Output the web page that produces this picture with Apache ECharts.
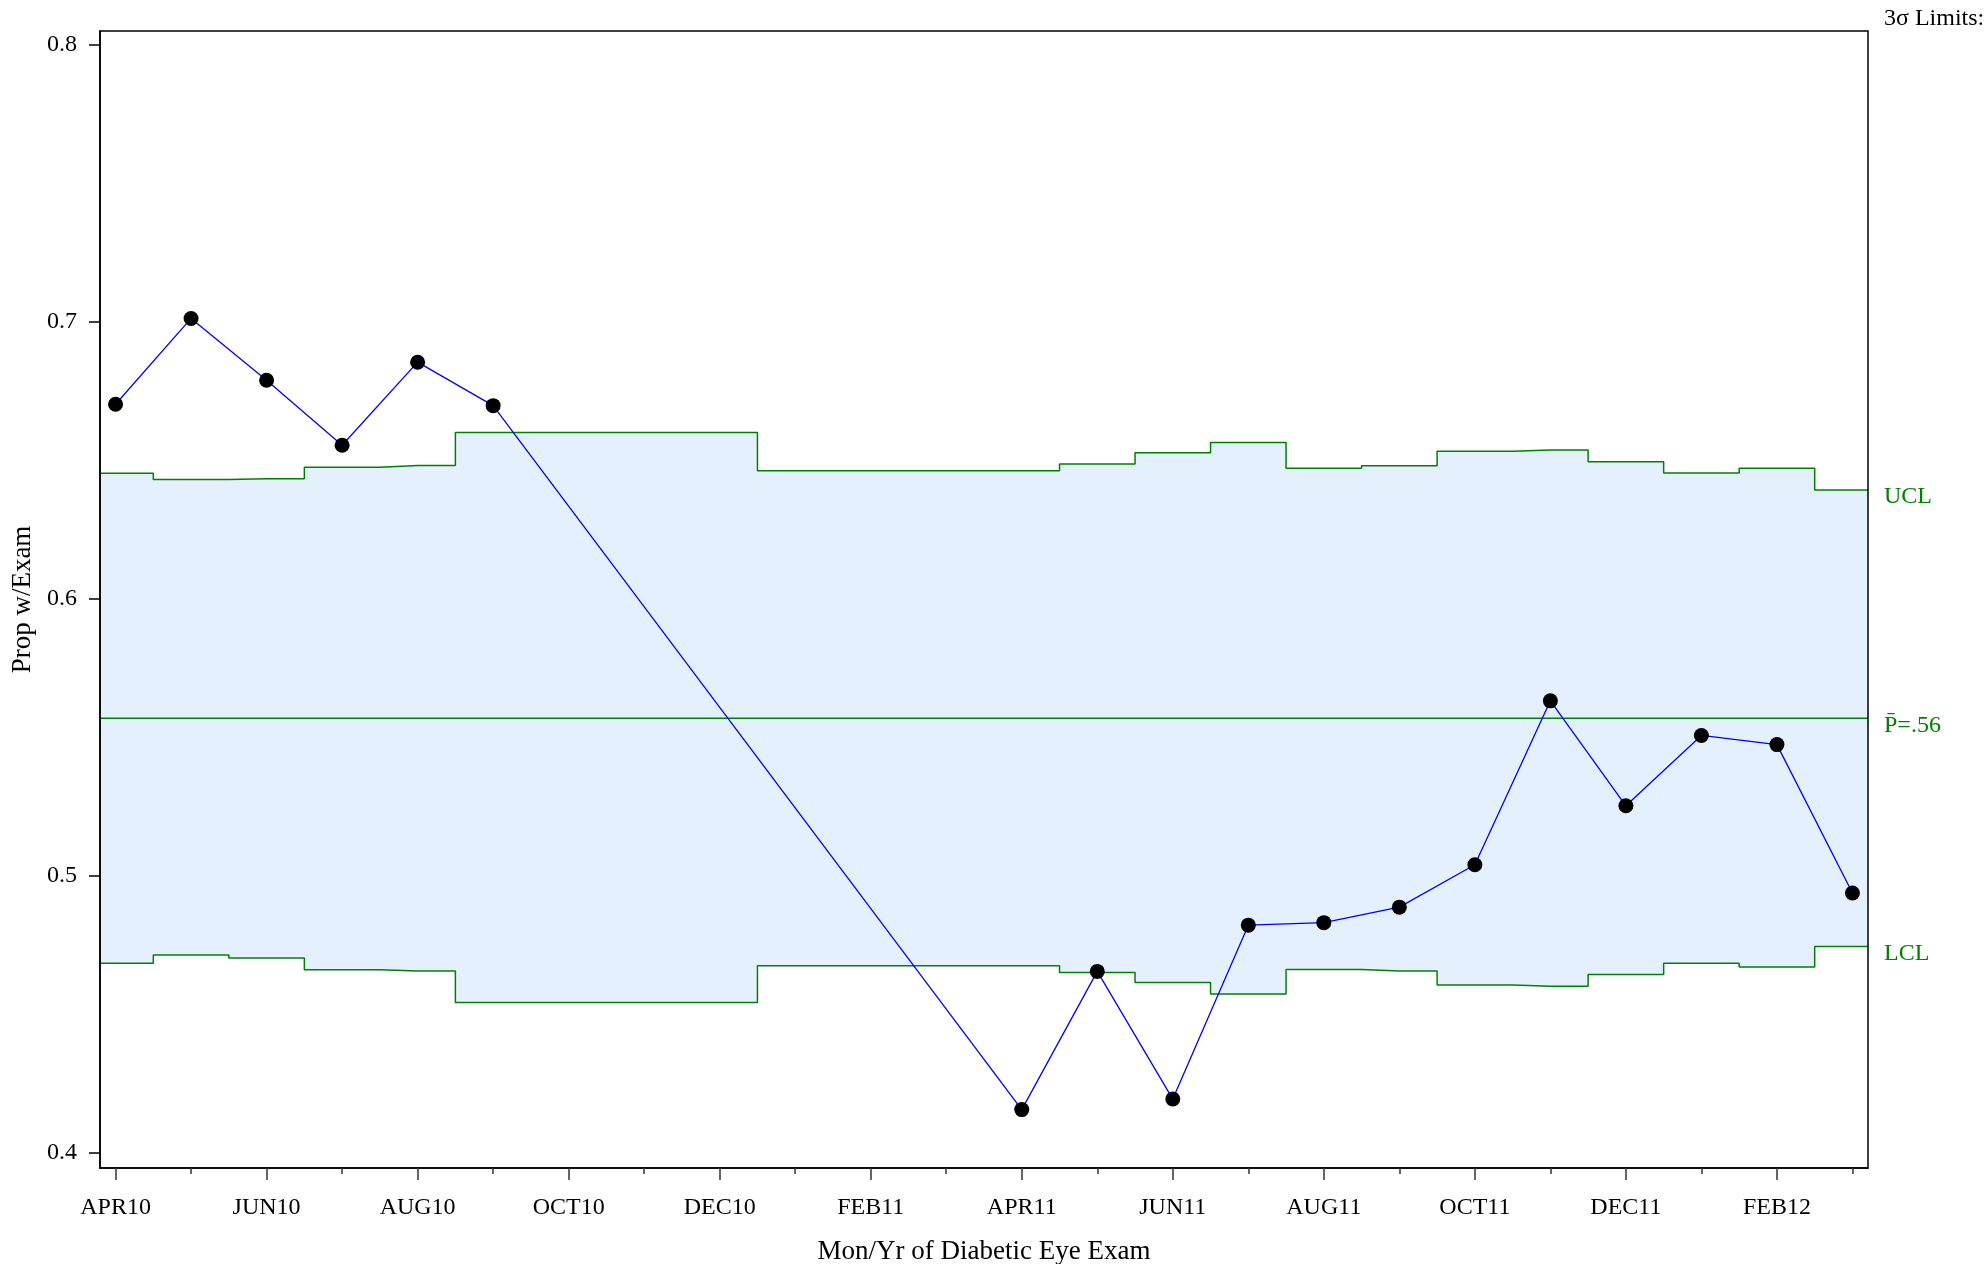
<!DOCTYPE html>
<html>
<head>
<meta charset="utf-8">
<script src="https://cdn.jsdelivr.net/npm/echarts@6/dist/echarts.min.js"></script>
<style>html,body{margin:0;padding:0;background:#fff;}#chart{width:1986px;height:1264px;}</style>
</head>
<body>
<div id="chart"></div>
<script>
// Month axis (index 0 = APR10 ... 23 = MAR12)
const months = ['APR10','MAY10','JUN10','JUL10','AUG10','SEP10','OCT10','NOV10','DEC10','JAN11','FEB11','MAR11',
                'APR11','MAY11','JUN11','JUL11','AUG11','SEP11','OCT11','NOV11','DEC11','JAN12','FEB12','MAR12'];
const labelMonths = ['APR10','JUN10','AUG10','OCT10','DEC10','FEB11','APR11','JUN11','AUG11','OCT11','DEC11','FEB12'];
const yTicks = [0.4, 0.5, 0.6, 0.7, 0.8];

// Observed months and proportions
const pointMonths = ['APR10','MAY10','JUN10','JUL10','AUG10','SEP10','APR11','MAY11','JUN11','JUL11','AUG11','SEP11',
                     'OCT11','NOV11','DEC11','JAN12','FEB12','MAR12'];
const propExam = [0.6702,0.7012,0.6789,0.6554,0.6854,0.6697,0.4155,0.4654,0.4193,0.4821,0.4830,0.4886,
                  0.5039,0.5631,0.5252,0.5506,0.5473,0.4937];
const ucl = [0.6453,0.6430,0.6433,0.6475,0.6481,0.6600,0.6462,0.6486,0.6527,0.6564,0.6471,0.6480,
             0.6532,0.6537,0.6494,0.6454,0.6471,0.6392];
const lcl = [0.4683,0.4713,0.4702,0.4660,0.4655,0.4542,0.4674,0.4650,0.4614,0.4572,0.4661,0.4655,
             0.4605,0.4600,0.4643,0.4683,0.4670,0.4744];
const pBar = 0.5568;

const X_MIN = -0.206, X_MAX = 23.206;
const Y_MIN = 0.3944, Y_MAX = 0.805;
const FONT = 'Liberation Serif';
const GREEN = '#008000';

const idx = pointMonths.map(m => months.indexOf(m));
const pts = idx.map((x, i) => [x, propExam[i]]);
function stepData(arr) {
  const d = idx.map((x, i) => [x, arr[i]]);
  return [[X_MIN, arr[0]]].concat(d, [[X_MAX, arr[arr.length - 1]]]);
}
const evenTicks = labelMonths.map(m => months.indexOf(m));
const oddTicks = months.map((m, i) => i).filter(i => evenTicks.indexOf(i) < 0);

const chart = echarts.init(document.getElementById('chart'), null, {renderer: 'canvas'});
const labelBase = {fontFamily: FONT, fontSize: 24, color: GREEN};
chart.setOption({
  animation: false,
  backgroundColor: '#fff',
  grid: {left: 100, right: 118, top: 31, bottom: 96, show: true, borderColor: '#000', borderWidth: 1.5,
         backgroundColor: 'transparent', z: 10, containLabel: false, outerBoundsMode: 'none'},
  graphic: [{type: 'text', left: 1884, top: 7, z: 20,
             style: {text: '3σ Limits:', fontFamily: FONT, fontSize: 24, fill: '#000'}}],
  xAxis: [{
    type: 'value', min: X_MIN, max: X_MAX, z: 10,
    name: 'Mon/Yr of Diabetic Eye Exam', nameLocation: 'middle', nameGap: 70,
    nameTextStyle: {fontFamily: FONT, fontSize: 27, color: '#000'},
    axisLine: {show: true, onZero: false, lineStyle: {color: '#000', width: 1.5}},
    axisTick: {show: true, length: 12, customValues: evenTicks, lineStyle: {color: '#333', width: 1.5}},
    axisLabel: {customValues: evenTicks, margin: 28, fontFamily: FONT, fontSize: 24, color: '#000',
                formatter: v => months[Math.round(v)]},
    splitLine: {show: false}
  }, {
    type: 'value', min: X_MIN, max: X_MAX, position: 'bottom', z: 10,
    axisLine: {show: false, onZero: false},
    axisTick: {show: true, length: 6, customValues: oddTicks, lineStyle: {color: '#333', width: 1.5}},
    axisLabel: {show: false},
    splitLine: {show: false}
  }],
  yAxis: {
    type: 'value', min: Y_MIN, max: Y_MAX, z: 10, position: 'left',
    name: 'Prop w/Exam', nameLocation: 'middle', nameGap: 54, nameRotate: 90,
    nameTextStyle: {fontFamily: FONT, fontSize: 27, color: '#000'},
    axisLine: {show: true, onZero: false, lineStyle: {color: '#000', width: 1.5}},
    axisTick: {show: true, length: 11, customValues: yTicks, lineStyle: {color: '#000', width: 1.5}},
    axisLabel: {customValues: yTicks, margin: 23, fontFamily: FONT, fontSize: 24, color: '#000',
                padding: [16, 0, 0, 0], formatter: v => v.toFixed(1)},
    splitLine: {show: false}
  },
  series: [
    {type: 'line', name: 'UCL', data: stepData(ucl), step: 'middle', symbol: 'none', z: 2,
     lineStyle: {color: GREEN, width: 1.5}, areaStyle: {color: '#E4F0FD', opacity: 1, origin: 'start'},
     endLabel: Object.assign({show: true, formatter: 'UCL', distance: 16, offset: [0, 7]}, labelBase)},
    {type: 'line', name: 'LCL', data: stepData(lcl), step: 'middle', symbol: 'none', z: 3,
     lineStyle: {color: GREEN, width: 1.5}, areaStyle: {color: '#ffffff', opacity: 1, origin: 'start'},
     endLabel: Object.assign({show: true, formatter: 'LCL', distance: 16, offset: [0, 7]}, labelBase)},
    {type: 'line', name: 'P', data: [[X_MIN, pBar], [X_MAX, pBar]], symbol: 'none', z: 4,
     lineStyle: {color: GREEN, width: 1.5},
     endLabel: Object.assign({show: true, formatter: 'P\u0304=.56', distance: 16, offset: [0, 7]}, labelBase)},
    {type: 'line', name: 'Prop', data: pts, symbol: 'circle', symbolSize: 15, z: 6,
     lineStyle: {color: '#0000FF', width: 1.3}, itemStyle: {color: '#000'}}
  ]
});
</script>
</body>
</html>
